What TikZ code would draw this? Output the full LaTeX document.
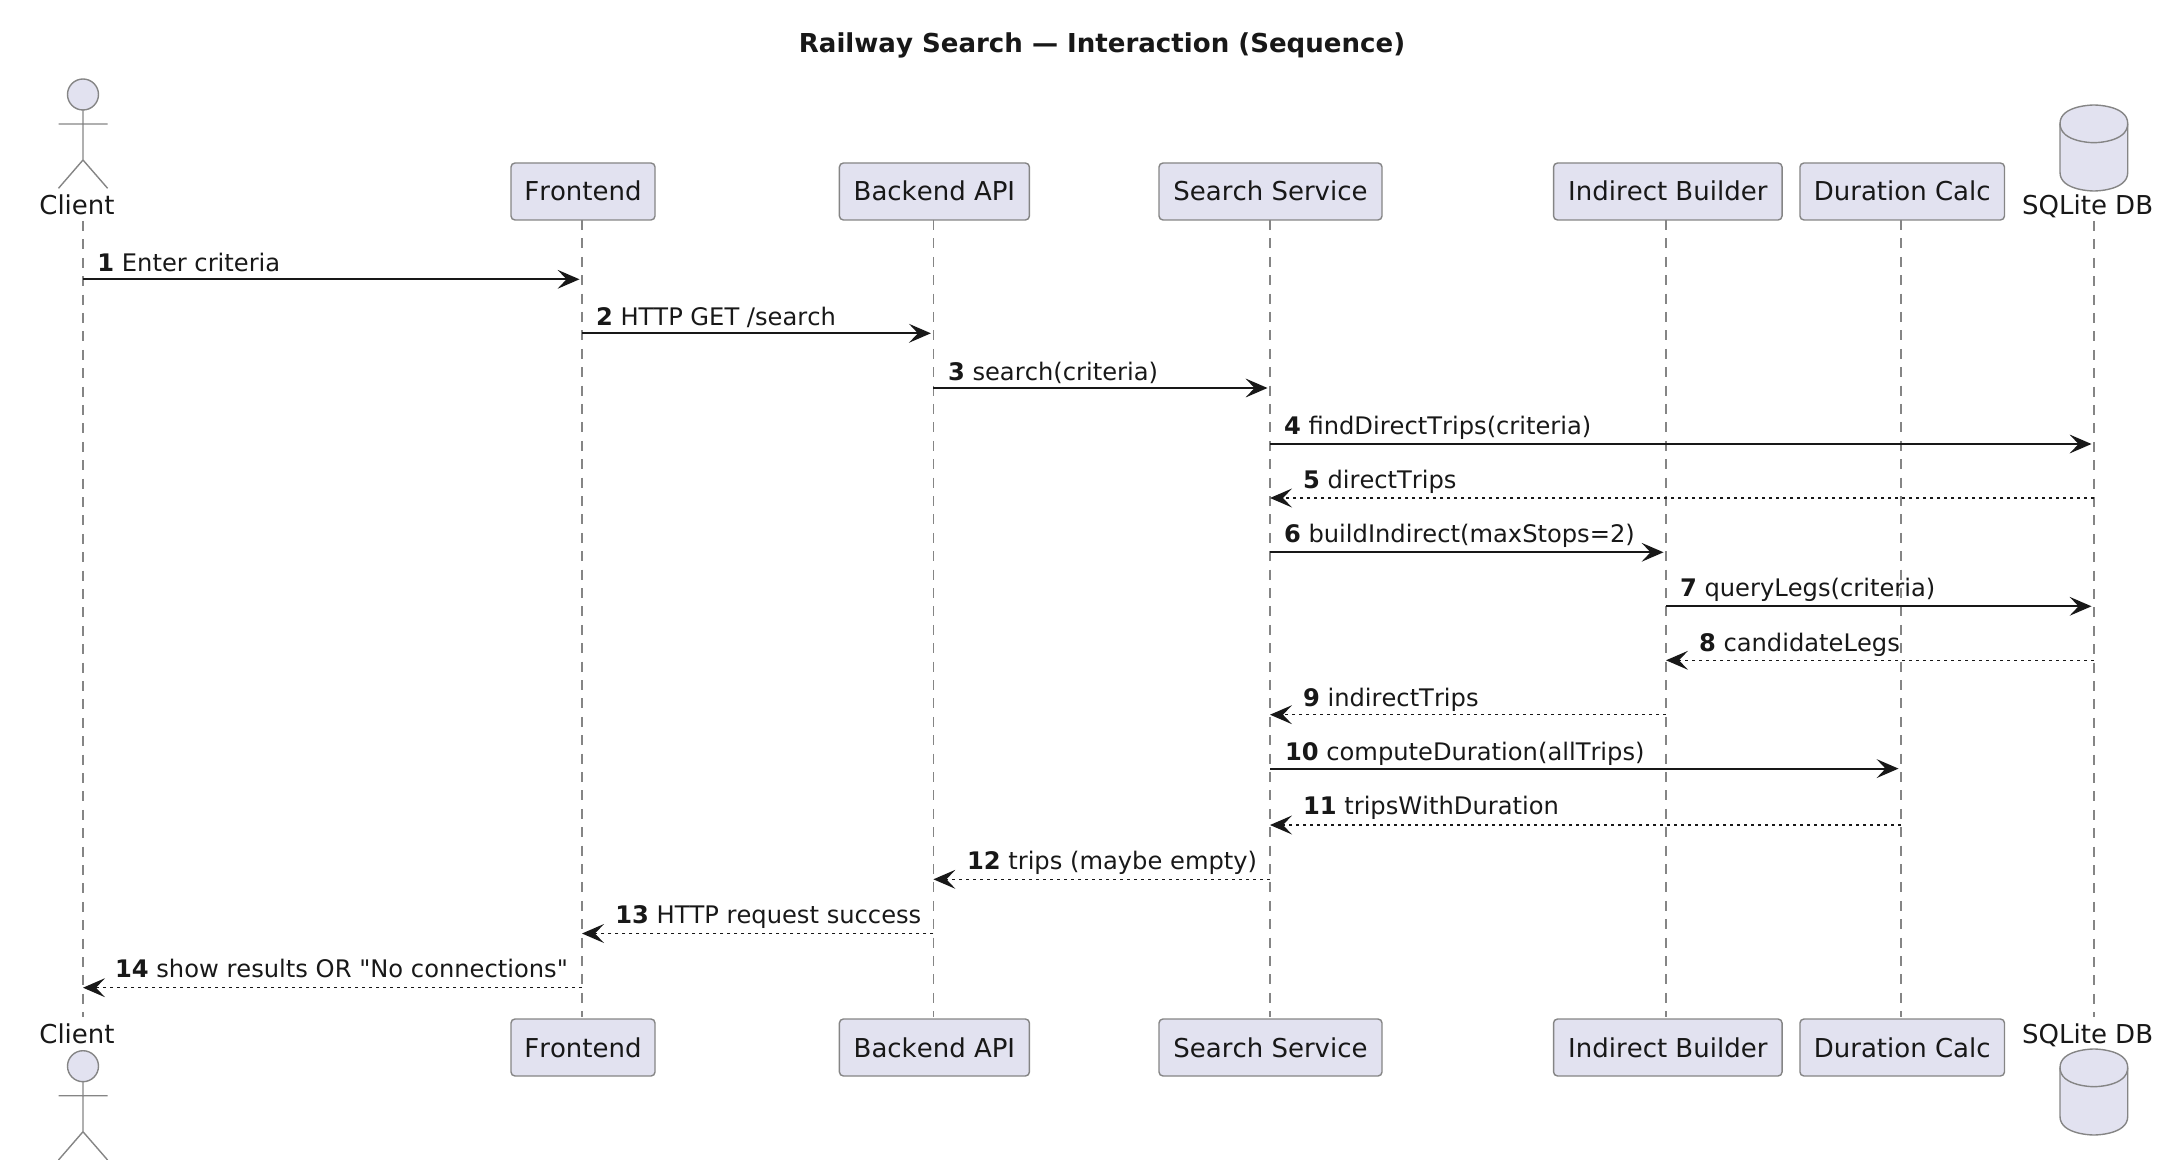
\documentclass[tikz,border=0pt]{standalone}
\usepackage{fontspec}
\setmainfont{DejaVu Sans}[Ligatures=TeXOff,Kerning=Off]
\usetikzlibrary{arrows.meta}
\definecolor{partfill}{HTML}{E2E2F0}
\definecolor{partline}{HTML}{858585}
\definecolor{ink}{HTML}{181818}
\newcommand{\msgfont}{\fontsize{12.09}{14}\selectfont}
\newcommand{\partfont}{\fontsize{13}{15}\selectfont}
\newcommand{\titlefont}{\fontsize{13.03}{15}\selectfont\bfseries}
\newcommand{\actorfig}{%
  \draw[figline,fill=partfill] (83,94.5) circle (15.5);
  \draw[figline] (83,110) -- (83,160) (58.5,124) -- (107.6,124)
    (58.5,188.3) -- (83,160) -- (107.6,188.3);
}
\newcommand{\dbfig}{%
  \draw[figline,fill=partfill] (2060,123.5) .. controls (2060,105) and (2094,105) .. (2094,105)
    .. controls (2094,105) and (2127.7,105) .. (2127.7,123.5) -- (2127.7,172.5)
    .. controls (2127.7,191) and (2094,191) .. (2094,191)
    .. controls (2094,191) and (2060,191) .. (2060,172.5) -- cycle;
  \draw[figline] (2060,123.5) .. controls (2060,142.7) and (2094,142.7) .. (2094,142.7)
    .. controls (2094,142.7) and (2127.7,142.7) .. (2127.7,123.5);
}
\tikzset{
  x=0.5pt,y=-0.5pt,
  part/.style={draw=partline,fill=partfill,line width=0.7pt,rounded corners=2pt,
    inner sep=0pt,outer sep=0pt,minimum height=28.5pt,text height=9.5pt,text depth=0pt,
    font=\partfont,text=ink},
  actorname/.style={inner sep=0pt,outer sep=0pt,anchor=base,font=\partfont,text=ink},
  figline/.style={draw=partline,line width=0.7pt},
  life/.style={draw=partline,line width=0.6pt,dash pattern=on 5pt off 4.2pt},
  msg/.style={draw=ink,line width=1pt,shorten >=1.25pt,
    -{Stealth[length=11pt,width=9.5pt,inset=4.5pt,line width=0pt]}},
  ret/.style={draw=ink,line width=0.75pt,dash pattern=on 1.75pt off 1.75pt,shorten >=0pt,
    -{Stealth[length=11pt,width=9.5pt,inset=4.5pt,line width=0pt]}},
  lab/.style={inner sep=0pt,outer sep=0pt,anchor=base west,font=\msgfont,text=ink,yshift=-0.6pt},
}
\begin{document}
\begin{tikzpicture}
\useasboundingbox (0,0) rectangle (2178,1160);
\node[inner sep=0pt,anchor=base,font=\titlefont,text=ink] (title) at (1102,53) {Railway Search — Interaction (Sequence)};

% participants, top row
\node[part,minimum width=144pt*0.5] (front) at (583,191.5) {Frontend};
\node[part,minimum width=190pt*0.5] (back) at (934.4,191.5) {Backend API};
\node[part,minimum width=223pt*0.5] (srch) at (1270.5,191.5) {Search Service};
\node[part,minimum width=228.5pt*0.5] (indb) at (1667.8,191.5) {Indirect Builder};
\node[part,minimum width=204.5pt*0.5] (dur) at (1902.2,191.5) {Duration Calc};
% participants, bottom row
\node[part,minimum width=144pt*0.5] (frontb) at (583,1047.5) {Frontend};
\node[part,minimum width=190pt*0.5] (backb) at (934.4,1047.5) {Backend API};
\node[part,minimum width=223pt*0.5] (srchb) at (1270.5,1047.5) {Search Service};
\node[part,minimum width=228.5pt*0.5] (indbb) at (1667.8,1047.5) {Indirect Builder};
\node[part,minimum width=204.5pt*0.5] (durb) at (1902.2,1047.5) {Duration Calc};

% actor and database
\actorfig
\begin{scope}[shift={(0,971.7)}]\actorfig\end{scope}
\dbfig
\begin{scope}[shift={(0,944)}]\dbfig\end{scope}
\node[actorname] (cl) at (77,215) {Client};
\node[actorname] (clb) at (77,1043) {Client};
\node[actorname] (db) at (2087.6,215) {SQLite DB};
\node[actorname] (dbb) at (2087.6,1043) {SQLite DB};

% lifelines
\coordinate (L1) at (83,221);   \coordinate (E1) at (83,1017);
\coordinate (L2) at ([xshift=-0.5pt]front.south);  \coordinate (E2) at ([xshift=-0.5pt,yshift=1pt]frontb.north);
\coordinate (L3) at ([xshift=-0.5pt]back.south);   \coordinate (E3) at ([xshift=-0.5pt,yshift=1pt]backb.north);
\coordinate (L4) at ([xshift=-0.25pt]srch.south);  \coordinate (E4) at ([xshift=-0.25pt,yshift=1pt]srchb.north);
\coordinate (L5) at ([xshift=-0.9pt]indb.south);   \coordinate (E5) at ([xshift=-0.9pt,yshift=1pt]indbb.north);
\coordinate (L6) at ([xshift=-0.6pt]dur.south);    \coordinate (E6) at ([xshift=-0.6pt,yshift=1pt]durb.north);
\coordinate (L7) at (2094,221); \coordinate (E7) at (2094,1017);
\foreach \i in {1,...,7} {\draw[life] (L\i) -- (E\i);}

% messages
\draw[msg] (L1 |- 0,279.3) -- (L2 |- 0,279.3);
\node[lab] (t1) at (97.4,270.5) {\textbf{1} Enter criteria};
\draw[msg] (L2 |- 0,333.3) -- (L3 |- 0,333.3);
\node[lab] (t2) at (596,324.5) {\textbf{2} HTTP GET /search};
\draw[msg] (L3 |- 0,388) -- (L4 |- 0,388);
\node[lab] (t3) at (948,379) {\textbf{3} search(criteria)};
\draw[msg] (L4 |- 0,444) -- (L7 |- 0,444);
\node[lab] (t4) at (1284,433) {\textbf{4} findDirectTrips(criteria)};
\draw[ret] (L7 |- 0,498) -- (L4 |- 0,498);
\node[lab] (t5) at (1303,487.5) {\textbf{5} directTrips};
\draw[msg] (L4 |- 0,552.3) -- (L5 |- 0,552.3);
\node[lab] (t6) at (1284,541.5) {\textbf{6} buildIndirect(maxStops=2)};
\draw[msg] (L5 |- 0,606.3) -- (L7 |- 0,606.3);
\node[lab] (t7) at (1680,595.5) {\textbf{7} queryLegs(criteria)};
\draw[ret] (L7 |- 0,660.3) -- (L5 |- 0,660.3);
\node[lab] (t8) at (1699,650) {\textbf{8} candidateLegs};
\draw[ret] (L5 |- 0,714.7) -- (L4 |- 0,714.7);
\node[lab] (t9) at (1303,705.4) {\textbf{9} indirectTrips};
\draw[msg] (L4 |- 0,768.6) -- (L6 |- 0,768.6);
\node[lab] (t10) at (1285,759.4) {\textbf{10} computeDuration(allTrips)};
\draw[ret] (L6 |- 0,825) -- (L4 |- 0,825);
\node[lab] (t11) at (1303,813.3) {\textbf{11} tripsWithDuration};
\draw[ret] (L4 |- 0,879.3) -- (L3 |- 0,879.3);
\node[lab] (t12) at (967,867.8) {\textbf{12} trips (maybe empty)};
\draw[ret] (L3 |- 0,933.5) -- (L2 |- 0,933.5);
\node[lab] (t13) at (615.3,921.8) {\textbf{13} HTTP request success};
\draw[ret] (L2 |- 0,987.7) -- (L1 |- 0,987.7);
\node[lab] (t14) at (115,976.1) {\textbf{14} show results OR "No connections"};
\end{tikzpicture}
\end{document}
